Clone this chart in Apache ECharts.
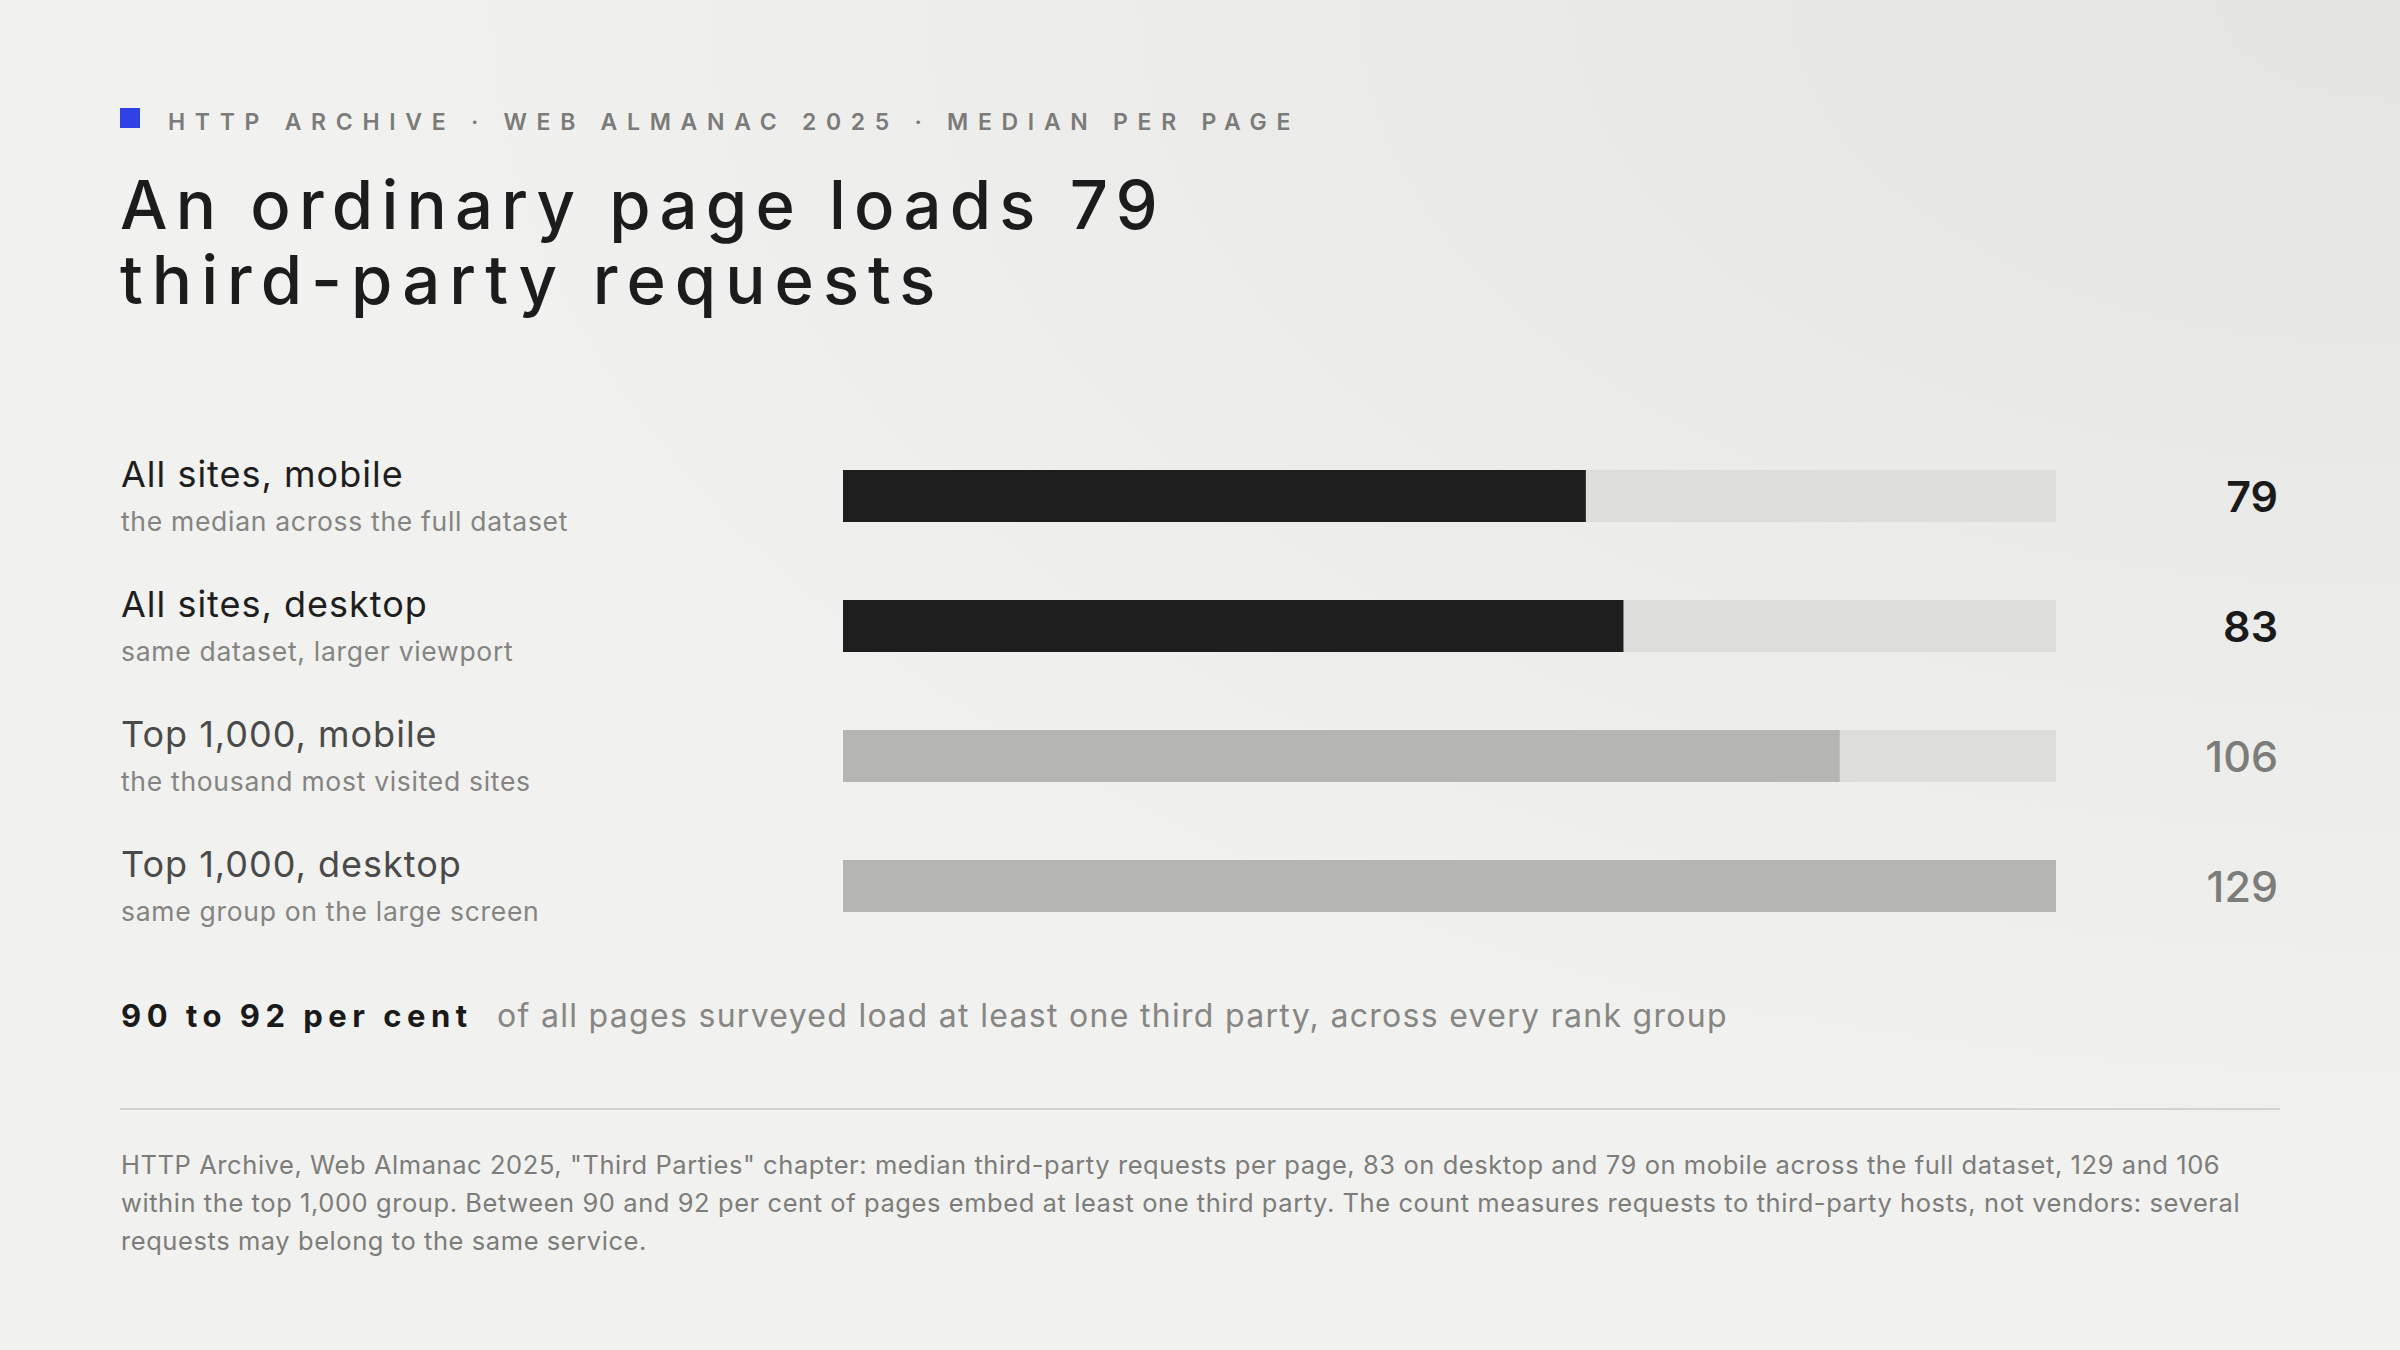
<!DOCTYPE html>
<html><head><meta charset="utf-8">
<script src="https://cdn.jsdelivr.net/npm/echarts@6/dist/echarts.min.js"></script>
<style>html,body{margin:0;padding:0;background:#f1f1ef;}#c{width:2400px;height:1350px;}</style>
</head><body><div id="c"></div>
<script>
const kicker = 'HTTP ARCHIVE · WEB ALMANAC 2025 · MEDIAN PER PAGE';
const titleLines = ['An ordinary page loads 79', 'third-party requests'];
const categories = ['All sites, mobile', 'All sites, desktop', 'Top 1,000, mobile', 'Top 1,000, desktop'];
const subtitles = ['the median across the full dataset', 'same dataset, larger viewport', 'the thousand most visited sites', 'same group on the large screen'];
const groups = ['all', 'all', 'top', 'top'];
const values = [79, 83, 106, 129];
const calloutLead = '90 to 92 per cent';
const calloutText = 'of all pages surveyed load at least one third party, across every rank group';
const sourceLines = [
  'HTTP Archive, Web Almanac 2025, "Third Parties" chapter: median third-party requests per page, 83 on desktop and 79 on mobile across the full dataset, 129 and 106',
  'within the top 1,000 group. Between 90 and 92 per cent of pages embed at least one third party. The count measures requests to third-party hosts, not vendors: several',
  'requests may belong to the same service.'
];

const FF = "Inter, 'Noto Sans', sans-serif";
const barColor = { all: '#1e1e1e', top: '#b5b5b3' };
const labelColor = { all: '#1e1e1e', top: '#4a4a4a' };

const chart = echarts.init(document.getElementById('c'), null, { renderer: 'svg', width: 2400, height: 1350 });

const option = {
  animation: false,
  backgroundColor: '#f1f1ef',
  grid: { left: 843, right: 344, top: 431, bottom: 399, containLabel: false },
  xAxis: { type: 'value', min: 0, max: Math.max(...values), show: false },
  yAxis: [
    {
      type: 'category', data: categories, inverse: true, position: 'left',
      axisLine: { show: false }, axisTick: { show: false }, splitLine: { show: false },
      axisLabel: {
        align: 'left', margin: 722, verticalAlign: 'middle',
        formatter: (v, i) => `{${groups[i] === 'all' ? 'ta' : 'tt'}|${v}}\n{s|${subtitles[i]}}`,
        rich: {
          ta: { fontFamily: FF, fontSize: 36, fontWeight: 400, color: labelColor.all, lineHeight: 50 },
          tt: { fontFamily: FF, fontSize: 36, fontWeight: 400, color: labelColor.top, lineHeight: 50 },
          s: { fontFamily: FF, fontSize: 26.5, fontWeight: 400, color: '#848482', lineHeight: 44 }
        }
      }
    },
    {
      type: 'category', data: categories, inverse: true, position: 'right',
      axisLine: { show: false }, axisTick: { show: false }, splitLine: { show: false },
      axisLabel: {
        align: 'right', margin: 222,
        formatter: (v, i) => `{${groups[i] === 'all' ? 'da' : 'dt'}|${values[i]}}`,
        rich: {
          da: { fontFamily: FF, fontSize: 43, fontWeight: 600, color: '#1a1a1a' },
          dt: { fontFamily: FF, fontSize: 43, fontWeight: 500, color: '#7c7c7a' }
        }
      }
    }
  ],
  series: [{
    type: 'bar', yAxisIndex: 0, barWidth: 52,
    showBackground: true, backgroundStyle: { color: '#dddddb' },
    data: values.map((v, i) => ({ value: v, itemStyle: { color: barColor[groups[i]] } })),
    silent: true
  }],
  graphic: [
    { type: 'rect', z: -100, silent: true, shape: { x: 0, y: 0, width: 2400, height: 1350 },
      style: { fill: { type: 'radial', x: 1, y: 0, r: 0.85, colorStops: [{ offset: 0, color: '#e4e4e2' }, { offset: 1, color: '#f1f1ef' }] } } },
    { type: 'rect', silent: true, shape: { x: 120, y: 108, width: 20, height: 20 }, style: { fill: '#3142e4' } },
    { type: 'text', silent: true, x: 168, y: 122, style: { text: kicker, fontFamily: FF, fontSize: 23, fontWeight: 600, fill: '#7b7b79', align: 'left', verticalAlign: 'middle' } },
    { type: 'text', silent: true, x: 120, y: 166.5, style: { text: titleLines.join('\n'), fontFamily: FF, fontSize: 67, fontWeight: 500, fill: '#1c1c1c', lineHeight: 75, align: 'left', verticalAlign: 'top' } },
    { type: 'text', silent: true, x: 121, y: 1015, style: { text: calloutLead, fontFamily: FF, fontSize: 31, fontWeight: 700, fill: '#1a1a1a', align: 'left', verticalAlign: 'middle' } },
    { type: 'text', silent: true, x: 497, y: 1015, style: { text: calloutText, fontFamily: FF, fontSize: 32, fontWeight: 400, fill: '#868684', align: 'left', verticalAlign: 'middle' } },
    { type: 'line', silent: true, shape: { x1: 120, y1: 1109, x2: 2280, y2: 1109 }, style: { stroke: '#d3d3d1', lineWidth: 2 } },
    { type: 'text', silent: true, x: 121, y: 1145, style: { text: sourceLines.join('\n'), fontFamily: FF, fontSize: 25.5, fontWeight: 400, fill: '#7c7c7a', lineHeight: 38, align: 'left', verticalAlign: 'top' } }
  ]
};

const spacingMap = new Map([
  [kicker, 9.7], [titleLines[0], 8.2], [titleLines[1], 9.0], [calloutLead, 5.5], [calloutText, 1.3]
]);
categories.forEach(c => spacingMap.set(c, 1));
subtitles.forEach(s => spacingMap.set(s, 0.7));
sourceLines.forEach(s => spacingMap.set(s, 0.57));
function applySpacing() {
  document.querySelectorAll('#c svg text').forEach(t => {
    const s = spacingMap.get(t.textContent);
    if (s != null) t.setAttribute('letter-spacing', s);
  });
}
chart.on('finished', applySpacing);
chart.setOption(option);
applySpacing();
</script>
</body></html>
